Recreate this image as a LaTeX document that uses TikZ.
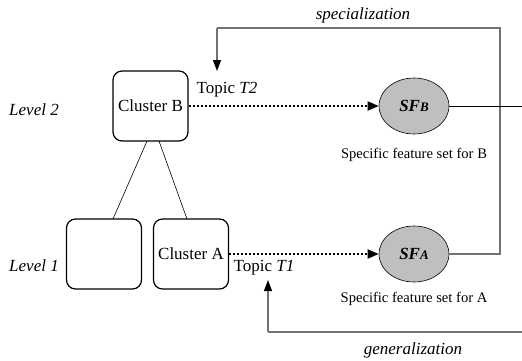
\documentclass[tikz,border=0pt]{standalone}
\usepackage{fontspec}
\setmainfont{Liberation Serif}
\usetikzlibrary{arrows.meta,shapes.geometric}
\tikzset{
  cluster/.style={draw, line width=1.2pt, rounded corners=9pt, minimum width=75pt, minimum height=70pt, inner sep=0pt, font=\fontsize{17}{20}\selectfont},
  featset/.style={draw, ellipse, fill=black!25, line width=0.6pt, minimum width=70pt, minimum height=56pt, inner sep=0pt, font=\fontsize{17}{20}\selectfont\bfseries\itshape},
  lbl/.style={inner sep=0pt, font=\fontsize{17}{20}\selectfont},
  ilbl/.style={inner sep=0pt, font=\fontsize{17}{20}\selectfont\itshape},
  captext/.style={inner sep=0pt, font=\fontsize{14.6}{17}\selectfont},
  topicflow/.style={line width=2pt, dash pattern=on 2pt off 2pt, -{Triangle[length=11pt,width=9pt]}},
  loopline/.style={draw=black!55, line width=1.2pt},
  feedback/.style={loopline, -{Triangle[length=11pt,width=8pt,fill=black,color=black]}},
  link/.style={line width=0.6pt}
}
\begin{document}
\begin{tikzpicture}[x=1pt,y=-1pt]
  \useasboundingbox (0,0) rectangle (522,360);

  % level labels
  \node[ilbl] (lv2) at (34,110) {Level 2};
  \node[ilbl] (lv1) at (34,266) {Level 1};

  % clusters
  \node[cluster] (cb) at (150.5,106) {Cluster B};
  \node[cluster] (cx) at (104,254) {};
  \node[cluster] (ca) at (191,254) {Cluster A};

  % hierarchy links
  \coordinate (cbl) at (147,141);
  \coordinate (cbr) at (159,141);
  \coordinate (cxt) at (113,219);
  \coordinate (cat) at (187,219);
  \draw[link] (cbl) -- (cxt);
  \draw[link] (cbr) -- (cat);

  % feature sets
  \node[featset] (sfb) at (414,106) {SF{\fontsize{13}{15}\selectfont B}};
  \node[featset] (sfa) at (414,254) {SF{\fontsize{13}{15}\selectfont A}};
  \node[captext] (capb) at (414,155) {Specific feature set for B};
  \node[captext] (capa) at (414,299) {Specific feature set for A};

  % topics
  \draw[topicflow] (cb.east |- sfb) -- (sfb.west);
  \draw[topicflow] (ca.east |- sfa) -- (sfa.west);
  \node[lbl] (t2) at (227,90) {Topic \textit{T2}};
  \node[lbl] (t1) at (264,268) {Topic \textit{T1}};

  % specialization loop
  \coordinate (spR) at (500,28);
  \coordinate (spL) at (217,28);
  \coordinate (spT) at (217,71);
  \draw[loopline] (sfa.east) -- (sfa.east -| spR) -- (spR) -- (spL);
  \draw[feedback] (spL) -- (spT);
  \node[ilbl] (spec) at (363,15) {specialization};

  % outgoing line from SF_B
  \coordinate (outB) at (522,106);
  \draw[link] (sfb.east) -- (outB);

  % generalization loop
  \coordinate (gR) at (522,332);
  \coordinate (gL) at (268,332);
  \coordinate (gT) at (268,280);
  \draw[loopline] (gR) -- (gL);
  \draw[feedback] (gL) -- (gT);
  \node[ilbl] (gen) at (413,350) {generalization};
\end{tikzpicture}
\end{document}
